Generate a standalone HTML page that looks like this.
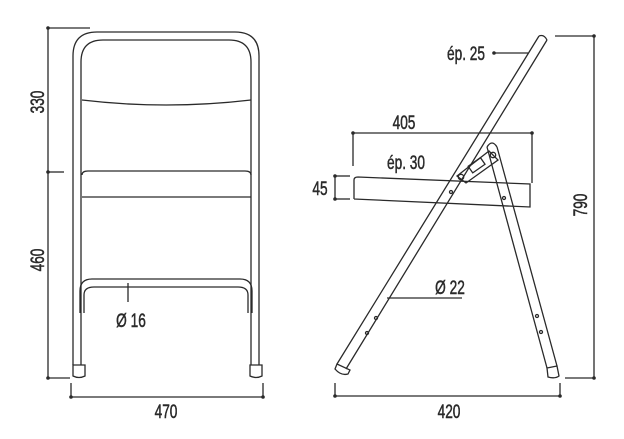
<!DOCTYPE html>
<html><head><meta charset="utf-8"><style>
html,body{margin:0;padding:0;background:#fff;}
svg{display:block;}
text{font-family:"Liberation Sans",sans-serif;font-size:19px;fill:#2a2a2a;stroke:#2a2a2a;stroke-width:0.5;}
</style></head><body>
<svg width="624" height="439" viewBox="0 0 624 439" xmlns="http://www.w3.org/2000/svg">
<g fill="none" stroke="#2a2a2a" stroke-width="1.3">
<path d="M73,365 V56 Q73,32 97,32 H235 Q259,32 259,56 V365"/>
<path d="M81,365 V62 Q81,40 103,40 H229 Q251,40 251,62 V365"/>
<path d="M82,100 Q166,110 251,100"/>
<path d="M82,175 Q82,171 88,171 H245 Q251,171 251,175"/>
<line x1="82" y1="197" x2="251" y2="197"/>
<path d="M80,313 V291 Q80,279 92,279 H240 Q252,279 252,291 V313"/>
<path d="M84,313 V295 Q84,287 94,287 H238 Q248,287 248,295 V313"/>
<path d="M73,365 H85 V376 Q79,379 73,376 Z"/>
<path d="M250,365 H262 V376 Q256,379 250,376 Z"/>
<line x1="48" y1="28" x2="48" y2="378"/>
<line x1="48" y1="28" x2="90" y2="28"/>
<line x1="48" y1="172" x2="64" y2="172"/>
<line x1="48" y1="378" x2="70" y2="378"/>
<line x1="71" y1="383" x2="71" y2="397"/>
<line x1="263" y1="383" x2="263" y2="397"/>
<line x1="71" y1="397" x2="263" y2="397"/>
<line x1="128" y1="283" x2="128" y2="302"/>
<path d="M539,36 L337,364 M547,40 L346,369"/>
<path d="M539,36 Q544,34 547,40"/>
<path d="M337,364 L335,369 Q341,376 348,374 L350,370 Z"/>
<path d="M487,147 L547,368 M497,147 L557,366"/>
<path d="M487,147 Q492,139 497,147"/>
<path d="M547,368 L548,377 Q555,379 559,376 L557,366 Z"/>
<path d="M354,199 V180 Q354,177 358,177 L530,184 V207 L354,199"/>
<path d="M457,176 L489,151 L498,160 L466,183 Z"/>
<rect x="469" y="161" width="15" height="8" transform="rotate(-35 477 165)"/>
<circle cx="461" cy="177" r="2.7"/><circle cx="493" cy="155" r="2.7"/>
<circle cx="451" cy="192" r="1.5"/><circle cx="504" cy="198" r="1.5"/>
<circle cx="376" cy="318" r="1.5"/><circle cx="367" cy="333" r="1.5"/>
<circle cx="537" cy="316" r="1.5"/><circle cx="541" cy="332" r="1.5"/>
<line x1="494" y1="53" x2="528" y2="53"/>
<line x1="353" y1="133" x2="532" y2="133"/>
<line x1="353" y1="133" x2="353" y2="166"/>
<line x1="532" y1="133" x2="532" y2="183"/>
<line x1="335" y1="176" x2="335" y2="199"/>
<line x1="335" y1="176" x2="350" y2="176"/>
<line x1="335" y1="199" x2="350" y2="199"/>
<line x1="387" y1="298" x2="462" y2="298"/>
<line x1="555" y1="36" x2="594" y2="36"/>
<line x1="594" y1="36" x2="594" y2="378"/>
<line x1="565" y1="378" x2="594" y2="378"/>
<line x1="335" y1="383" x2="335" y2="396"/>
<line x1="560" y1="383" x2="560" y2="396"/>
<line x1="335" y1="396" x2="560" y2="396"/>
</g>
<g fill="#2a2a2a">
<circle cx="48" cy="28" r="1.8"/><circle cx="48" cy="172" r="1.8"/><circle cx="48" cy="378" r="1.8"/>
<circle cx="71" cy="397" r="1.8"/><circle cx="263" cy="397" r="1.8"/>
<circle cx="494" cy="53" r="1.8"/><circle cx="353" cy="133" r="1.8"/><circle cx="532" cy="133" r="1.8"/>
<circle cx="335" cy="176" r="1.8"/><circle cx="335" cy="199" r="1.8"/>
<circle cx="594" cy="36" r="1.8"/><circle cx="594" cy="378" r="1.8"/>
<circle cx="335" cy="396" r="1.8"/><circle cx="560" cy="396" r="1.8"/>
</g>
<text text-anchor="middle" transform="translate(44,102) rotate(-90) scale(0.72,1)">330</text>
<text text-anchor="middle" transform="translate(44,260) rotate(-90) scale(0.72,1)">460</text>
<text text-anchor="middle" transform="translate(166,418) scale(0.72,1)">470</text>
<text text-anchor="middle" transform="translate(131,327) scale(0.72,1)">Ø 16</text>
<text text-anchor="middle" transform="translate(466,60) scale(0.72,1)">ép. 25</text>
<text text-anchor="middle" transform="translate(404,129) scale(0.72,1)">405</text>
<text text-anchor="middle" transform="translate(406,169) scale(0.72,1)">ép. 30</text>
<text text-anchor="middle" transform="translate(320,195) scale(0.72,1)">45</text>
<text text-anchor="middle" transform="translate(587,205) rotate(-90) scale(0.72,1)">790</text>
<text text-anchor="middle" transform="translate(450,294) scale(0.72,1)">Ø 22</text>
<text text-anchor="middle" transform="translate(449,418) scale(0.72,1)">420</text>
</svg>
</body></html>
